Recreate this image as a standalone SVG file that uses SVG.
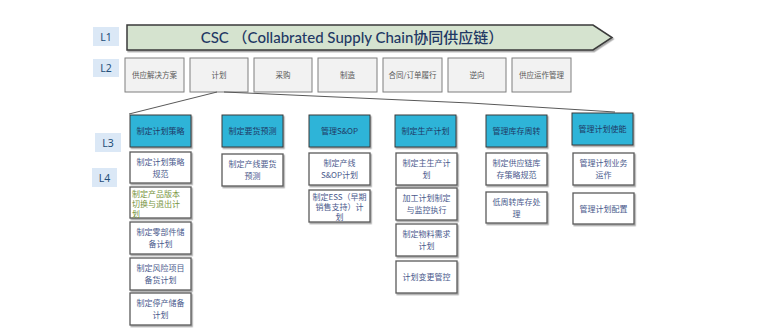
<svg xmlns="http://www.w3.org/2000/svg" width="760" height="334" viewBox="0 0 760 334">
<defs>
<filter id="sh" x="-10%" y="-10%" width="130%" height="140%">
<feDropShadow dx="1.2" dy="1.5" stdDeviation="0.6" flood-color="#000" flood-opacity="0.35"/>
</filter>
<style>
.lv{fill:#dbe8f6}
.lvt{font-family:"Noto Sans","Noto Sans CJK SC",sans-serif;font-size:10.5px;fill:#1f4e79;text-anchor:middle}
.l2{fill:#f2f2f2;stroke:#7f7f7f;stroke-width:1}
.l2t{font-family:"Noto Sans CJK SC",sans-serif;font-size:7.5px;fill:#595959;text-anchor:middle}
.l3{fill:#2fb4d8;stroke:#3a3a3a;stroke-width:1}
.l3t{font-family:"Noto Sans CJK SC",sans-serif;font-size:8px;fill:#1f3a66;text-anchor:middle}
.l4{fill:#fff;stroke:#595959;stroke-width:1.3}
.l4t{font-family:"Noto Sans CJK SC",sans-serif;font-size:8px;fill:#4a5a8c;text-anchor:middle}
.l4g{font-family:"Noto Sans CJK SC",sans-serif;font-size:8px;fill:#77933c}
.con{fill:none;stroke:#595959;stroke-width:1}
</style>
</defs>
<rect width="760" height="334" fill="#fff"/>

<g id="levels">
<rect class="lv" x="93" y="27" width="26" height="19"/><text class="lvt" x="106" y="40.5">L1</text>
<rect class="lv" x="93" y="59" width="26" height="18"/><text class="lvt" x="106" y="72">L2</text>
<rect class="lv" x="95" y="133" width="26" height="19"/><text class="lvt" x="108" y="146.5">L3</text>
<rect class="lv" x="92" y="168" width="25" height="19"/><text class="lvt" x="104.5" y="181.5">L4</text>
</g>

<g id="csc">
<polygon points="127,25 593,25 612,37.5 593,50 127,50" fill="#d5e3cf" stroke="#3a3a3a" stroke-width="1.5" filter="url(#sh)"/>
<text x="352" y="42.5" font-family="Lato,'Noto Sans CJK SC',sans-serif" font-size="15" font-weight="500" fill="#1f3864" text-anchor="middle">CSC （Collabrated Supply Chain协同供应链）</text>
</g>

<g id="l2">
<g id="l2-1"><rect class="l2" x="125" y="58" width="59" height="34"/><text class="l2t" x="154.5" y="78">供应解决方案</text></g>
<g id="l2-2"><rect class="l2" x="190" y="58" width="58" height="34"/><text class="l2t" x="219" y="78">计划</text></g>
<g id="l2-3"><rect class="l2" x="254" y="58" width="58" height="34"/><text class="l2t" x="283" y="78">采购</text></g>
<g id="l2-4"><rect class="l2" x="318" y="58" width="59" height="34"/><text class="l2t" x="347.5" y="78">制造</text></g>
<g id="l2-5"><rect class="l2" x="383" y="58" width="59" height="34"/><text class="l2t" x="412.5" y="78">合同/订单履行</text></g>
<g id="l2-6"><rect class="l2" x="448" y="58" width="58" height="34"/><text class="l2t" x="477" y="78">逆向</text></g>
<g id="l2-7"><rect class="l2" x="512" y="58" width="59" height="34"/><text class="l2t" x="541.5" y="78">供应运作管理</text></g>
</g>

<g id="connectors">
<line class="con" x1="217" y1="92" x2="129" y2="114"/>
<polyline class="con" points="224,92 470,103 615,112"/>
</g>

<g id="l3">
<g id="l3-1"><rect class="l3" x="130" y="115" width="61" height="32" filter="url(#sh)"/><text class="l3t" x="160.5" y="134">制定计划策略</text></g>
<g id="l3-2"><rect class="l3" x="222" y="115" width="61" height="32" filter="url(#sh)"/><text class="l3t" x="252.5" y="134">制定要货预测</text></g>
<g id="l3-3"><rect class="l3" x="309" y="115" width="61" height="32" filter="url(#sh)"/><text class="l3t" x="339.5" y="134">管理S&amp;OP</text></g>
<g id="l3-4"><rect class="l3" x="395" y="115" width="61" height="32" filter="url(#sh)"/><text class="l3t" x="425.5" y="134">制定生产计划</text></g>
<g id="l3-5"><rect class="l3" x="486" y="115" width="61" height="32" filter="url(#sh)"/><text class="l3t" x="516.5" y="134">管理库存周转</text></g>
<g id="l3-6"><rect class="l3" x="572" y="113" width="61" height="32" filter="url(#sh)"/><text class="l3t" x="602.5" y="132">管理计划使能</text></g>
</g>

<g id="l4">
<g id="l4-1a"><rect class="l4" x="130" y="152" width="61" height="31" filter="url(#sh)"/><text class="l4t" x="160.5" y="165">制定计划策略</text><text class="l4t" x="160.5" y="177">规范</text></g>
<g id="l4-1b"><rect class="l4" x="130" y="187" width="61" height="31" filter="url(#sh)"/><text class="l4g" x="132" y="197">制定产品版本</text><text class="l4g" x="132" y="207">切换与退出计</text><text class="l4g" x="132" y="217">划</text></g>
<g id="l4-1c"><rect class="l4" x="130" y="222" width="61" height="32" filter="url(#sh)"/><text class="l4t" x="160.5" y="235">制定零部件储</text><text class="l4t" x="160.5" y="247">备计划</text></g>
<g id="l4-1d"><rect class="l4" x="130" y="258" width="61" height="32" filter="url(#sh)"/><text class="l4t" x="160.5" y="271">制定风险项目</text><text class="l4t" x="160.5" y="283">备货计划</text></g>
<g id="l4-1e"><rect class="l4" x="130" y="293" width="61" height="32" filter="url(#sh)"/><text class="l4t" x="160.5" y="306">制定停产储备</text><text class="l4t" x="160.5" y="318">计划</text></g>

<g id="l4-2a"><rect class="l4" x="222" y="154" width="61" height="32" filter="url(#sh)"/><text class="l4t" x="252.5" y="167">制定产线要货</text><text class="l4t" x="252.5" y="179">预测</text></g>

<g id="l4-3a"><rect class="l4" x="309" y="153" width="61" height="32" filter="url(#sh)"/><text class="l4t" x="339.5" y="166">制定产线</text><text class="l4t" x="339.5" y="178">S&amp;OP计划</text></g>
<g id="l4-3b"><rect class="l4" x="309" y="190" width="61" height="32" filter="url(#sh)"/><text class="l4t" x="339.5" y="200">制定ESS（早期</text><text class="l4t" x="339.5" y="210">销售支持）计</text><text class="l4t" x="339.5" y="220">划</text></g>

<g id="l4-4a"><rect class="l4" x="396" y="153" width="61" height="32" filter="url(#sh)"/><text class="l4t" x="426.5" y="166">制定主生产计</text><text class="l4t" x="426.5" y="178">划</text></g>
<g id="l4-4b"><rect class="l4" x="396" y="188" width="61" height="32" filter="url(#sh)"/><text class="l4t" x="426.5" y="201">加工计划制定</text><text class="l4t" x="426.5" y="213">与监控执行</text></g>
<g id="l4-4c"><rect class="l4" x="396" y="224" width="61" height="32" filter="url(#sh)"/><text class="l4t" x="426.5" y="237">制定物料需求</text><text class="l4t" x="426.5" y="249">计划</text></g>
<g id="l4-4d"><rect class="l4" x="396" y="261" width="61" height="32" filter="url(#sh)"/><text class="l4t" x="426.5" y="280">计划变更管控</text></g>

<g id="l4-5a"><rect class="l4" x="486" y="153" width="61" height="32" filter="url(#sh)"/><text class="l4t" x="516.5" y="166">制定供应链库</text><text class="l4t" x="516.5" y="178">存策略规范</text></g>
<g id="l4-5b"><rect class="l4" x="486" y="192" width="61" height="31" filter="url(#sh)"/><text class="l4t" x="516.5" y="205">低周转库存处</text><text class="l4t" x="516.5" y="217">理</text></g>

<g id="l4-6a"><rect class="l4" x="573" y="153" width="61" height="32" filter="url(#sh)"/><text class="l4t" x="603.5" y="166">管理计划业务</text><text class="l4t" x="603.5" y="178">运作</text></g>
<g id="l4-6b"><rect class="l4" x="573" y="193" width="61" height="31" filter="url(#sh)"/><text class="l4t" x="603.5" y="212">管理计划配置</text></g>
</g>
</svg>
